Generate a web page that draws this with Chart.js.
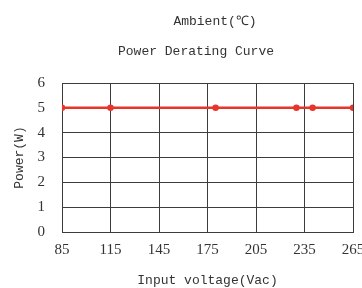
<!DOCTYPE html>
<html lang="en">
<head>
  <meta charset="UTF-8" />
  <title>Power Derating Curve</title>
  <script src="https://cdn.jsdelivr.net/npm/chart.js"></script>
  <style>
    body { margin: 0; background: #fff; }
    #wrap { width: 362px; height: 288px; position: relative; }
  </style>
</head>
<body>
  <div id="wrap"><canvas id="chart"></canvas></div>
  <script>
    // data
    const voltages = [85, 115, 180, 230, 240, 265];
    const power = [5, 5, 5, 5, 5, 5];
    const xTicks = [85, 115, 145, 175, 205, 235, 265];
    const yTicks = [0, 1, 2, 3, 4, 5, 6];

    const mono = "'Liberation Mono', monospace";
    const serif = "'Liberation Serif', serif";
    const gridColor = '#3c3c3c';

    // two heading lines above the plot
    const headings = {
      id: 'headings',
      afterDraw(chart) {
        const ctx = chart.ctx;
        ctx.save();
        ctx.fillStyle = '#333';
        ctx.font = '13px ' + mono;
        ctx.textAlign = 'center';
        ctx.textBaseline = 'middle';
        ctx.fillText('Ambient(℃)', 215, 22);
        ctx.fillText('Power Derating Curve', 196, 52);
        ctx.restore();
      }
    };

    new Chart(document.getElementById('chart'), {
      type: 'line',
      data: {
        datasets: [{
          data: voltages.map((v, i) => ({ x: v, y: power[i] })),
          borderColor: '#e8352b',
          backgroundColor: '#e8352b',
          borderWidth: 2.5,
          pointRadius: 2,
          pointHoverRadius: 2,
          tension: 0
        }]
      },
      options: {
        responsive: true,
        maintainAspectRatio: false,
        animation: false,
        layout: { padding: { top: 83, right: 9, bottom: 0, left: 0 } },
        plugins: { legend: { display: false }, tooltip: { enabled: false } },
        scales: {
          x: {
            type: 'linear',
            min: xTicks[0],
            max: xTicks[xTicks.length - 1],
            afterBuildTicks: s => { s.ticks = xTicks.map(v => ({ value: v })); },
            afterFit: s => { s.height = 56; s.paddingLeft = 0; s.paddingRight = 0; },
            grid: { color: gridColor, drawTicks: false },
            border: { color: gridColor },
            ticks: { color: '#333', font: { family: serif, size: 15 }, padding: 9, maxRotation: 0 },
            title: {
              display: true, text: 'Input voltage(Vac)', color: '#333',
              font: { family: mono, size: 13 }, padding: { top: 0, bottom: 0 }
            }
          },
          y: {
            min: yTicks[0],
            max: yTicks[yTicks.length - 1],
            afterBuildTicks: s => { s.ticks = yTicks.map(v => ({ value: v })); },
            afterFit: s => { s.width = 62; },
            grid: { color: gridColor, drawTicks: false },
            border: { color: gridColor },
            ticks: { color: '#333', font: { family: serif, size: 15 }, padding: 17 },
            title: {
              display: true, text: 'Power(W)', color: '#333',
              font: { family: mono, size: 13 }, padding: { top: 12, bottom: 0 }
            }
          }
        }
      },
      plugins: [headings]
    });
  </script>
</body>
</html>
